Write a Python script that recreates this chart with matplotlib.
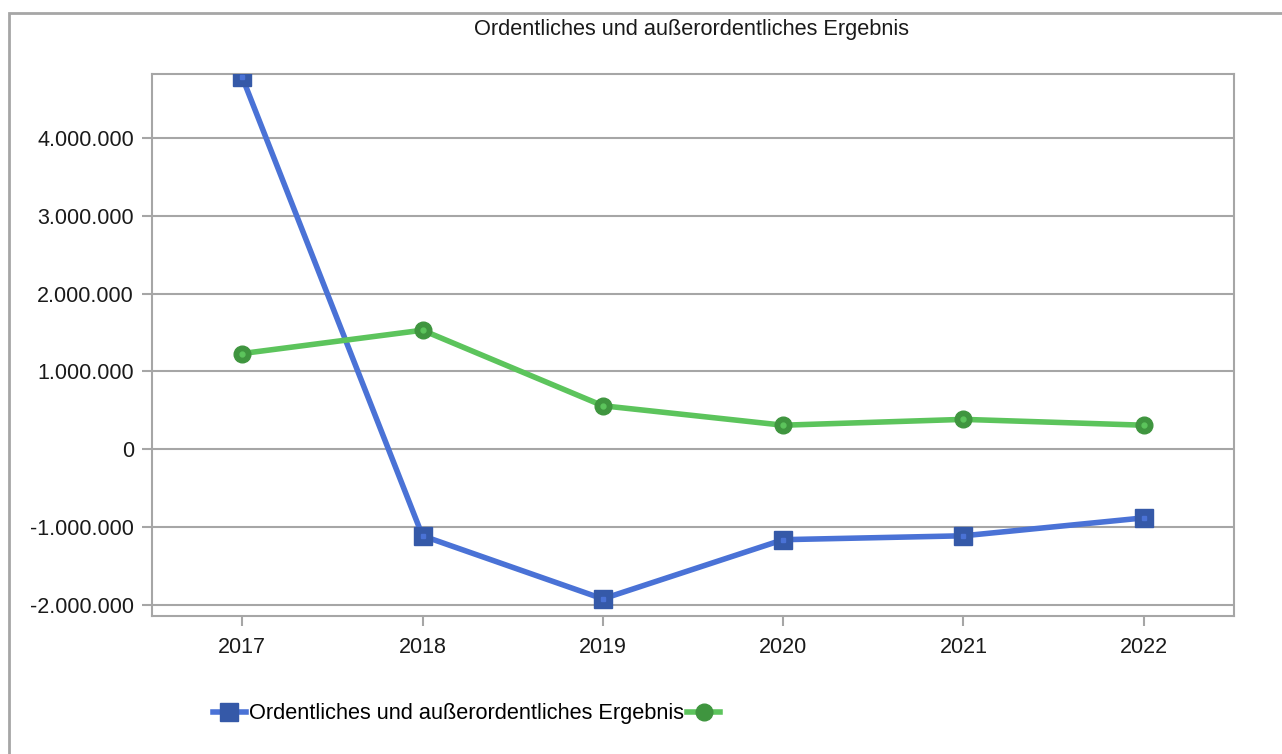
"""
    Ordentliches und außerordentliches Ergebnis, 2017-2022
"""

import numpy as np
import matplotlib.pyplot as plt
from matplotlib.ticker import FuncFormatter
from matplotlib.lines import Line2D
from matplotlib.patches import Rectangle

plt.rcParams['font.family'] = ['Liberation Sans', 'DejaVu Sans']

# data
years = ['2017', '2018', '2019', '2020', '2021', '2022']
ergebnis = [4780000, -1110000, -1920000, -1160000, -1110000, -880000]
zweite_reihe = [1230000, 1530000, 560000, 310000, 385000, 310000]
y_ticks = [-2000000, -1000000, 0, 1000000, 2000000, 3000000, 4000000]

title = "Ordentliches und außerordentliches Ergebnis"
label_blue = "Ordentliches und außerordentliches Ergebnis"

W, H = 1282, 754
fig = plt.figure(figsize=(W/100, H/100), dpi=100)
ax = fig.add_axes([152/W, 1 - 616/H, (1234 - 152)/W, (616 - 74)/H])

grey = '#a6a6a6'
blue_line, blue_mark = '#4a72d6', '#3559a8'
green_line, green_mark = '#5cc45c', '#3f953f'

x = np.arange(len(years))

ax.set_axisbelow(True)
ax.grid(axis='y', color=grey, linewidth=1.5)

ax.plot(x, ergebnis, color=blue_line, linewidth=4, marker='s', markersize=13.5,
        markerfacecolor=blue_mark, markeredgecolor=blue_mark, zorder=3)
ax.plot(x, ergebnis, linestyle='none', marker='s', markersize=3.5,
        color=blue_line, zorder=4)
ax.plot(x, zweite_reihe, color=green_line, linewidth=4, marker='o', markersize=12,
        markerfacecolor=green_mark, markeredgecolor=green_mark, zorder=3)
ax.plot(x, zweite_reihe, linestyle='none', marker='o', markersize=3.5,
        color=green_line, zorder=4)

ax.set_xlim(-0.5, len(years) - 0.5)
ax.set_ylim(-2140000, 4820000)
ax.set_xticks(x)
ax.set_xticklabels(years)
ax.set_yticks(y_ticks)
ax.yaxis.set_major_formatter(FuncFormatter(lambda v, p: f"{int(v):,}".replace(",", ".")))

for s in ax.spines.values():
    s.set_color(grey)
    s.set_linewidth(1.5)
ax.tick_params(axis='both', colors=grey, labelcolor='#1a1a1a', labelsize=15.5,
               length=7, width=1.5)
ax.tick_params(axis='y', pad=6)
ax.tick_params(axis='x', pad=8)

fig.text(692/W, 1 - 29/H, title, ha='center', va='center', fontsize=15.7, color='#1a1a1a')

# legend: second series has no label
handles = [
    Line2D([], [], color=blue_line, linewidth=4, marker='s', markersize=13.5,
           markerfacecolor=blue_mark, markeredgecolor=blue_mark),
    Line2D([], [], color=green_line, linewidth=4, marker='o', markersize=12,
           markerfacecolor=green_mark, markeredgecolor=green_mark),
]
fig.legend(handles, [label_blue, ''], loc='center left', bbox_to_anchor=(213/W, 1 - 714/H),
           ncol=2, frameon=False, fontsize=15.7, handlelength=1.5, handletextpad=0.15,
           columnspacing=0.15, borderaxespad=0, borderpad=0)

# outer frame, cut off at right and bottom
fig.patches.append(Rectangle((9/W, -0.1), 1.2, 1 - 13/H + 0.1, transform=fig.transFigure,
                             fill=False, edgecolor=grey, linewidth=2))

fig.savefig('out.png', dpi=100)
